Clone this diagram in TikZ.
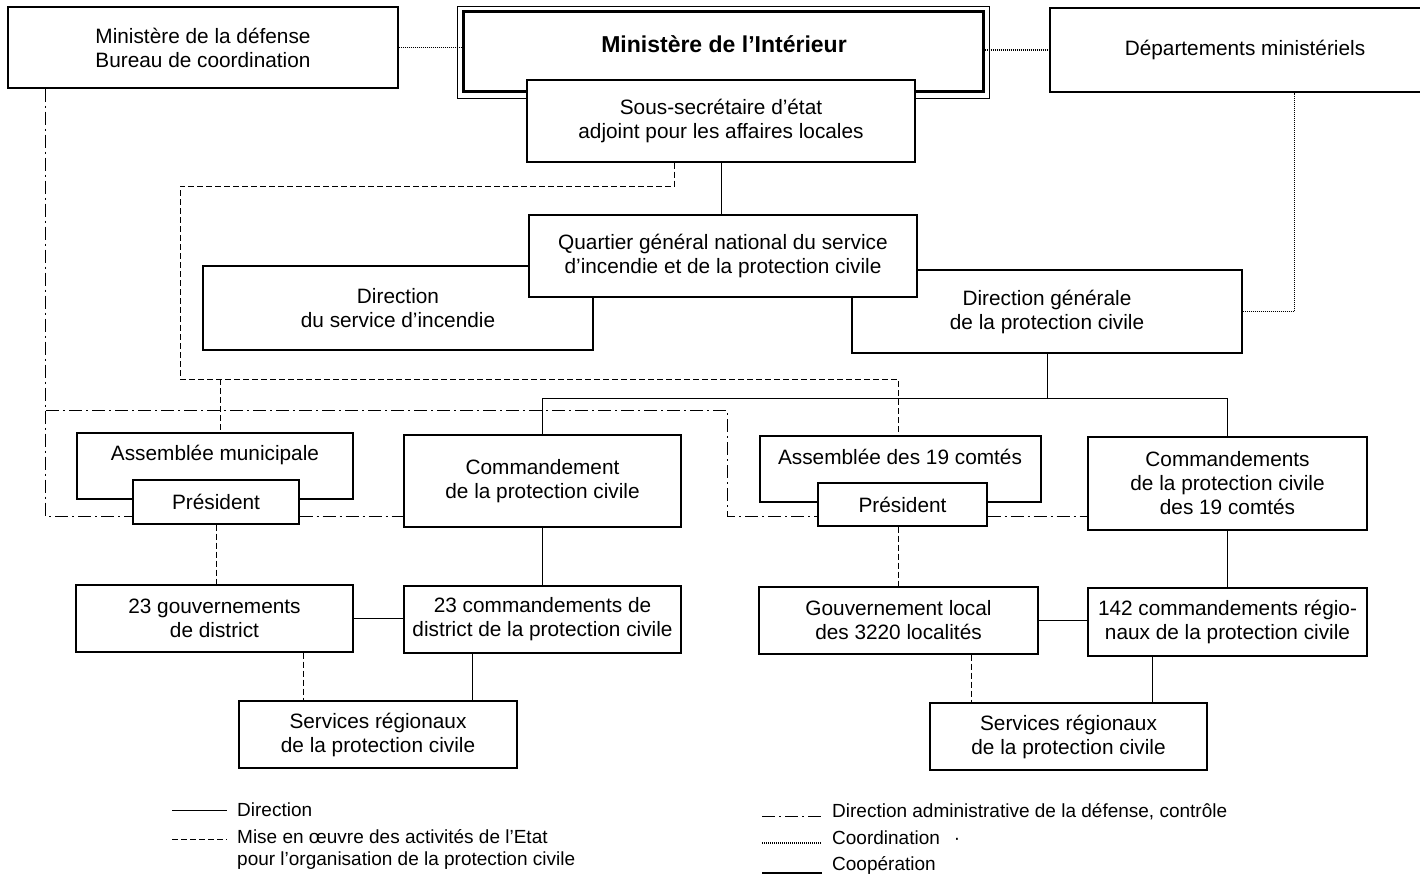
\documentclass[tikz,border=0pt]{standalone}
\usepackage{fontspec}
\setmainfont{Liberation Sans}
\usetikzlibrary{calc}
\begin{document}
\begin{tikzpicture}[x=1pt,y=-1pt,
  box/.style={draw, fill=white, line width=1.1pt, inner sep=0pt, align=center, font=\fontsize{20.8}{24}\selectfont},
  lbl/.style={inner sep=0pt, align=center, font=\fontsize{20.8}{24}\selectfont},
  con/.style={line width=0.9pt},
  dsh/.style={line width=0.8pt, dash pattern=on 6pt off 3pt},
  dshdot/.style={line width=0.8pt, dash pattern=on 13pt off 4pt on 2pt off 4pt},
  dotl/.style={line width=1.4pt, dash pattern=on 1pt off 1pt},
  leg/.style={inner sep=0pt, anchor=west, align=left, font=\fontsize{19}{22}\selectfont}
]
\useasboundingbox (0,0) rectangle (1420,877);
\clip (0,0) rectangle (1420,877);
\fill[white] (0,0) rectangle (1420,877);

% ---------- upper boxes ----------
\node[box, minimum width=390, minimum height=81] (def) at (203,47.5) {Ministère de la défense\\Bureau de coordination};
\node[box, minimum width=390, minimum height=84] (dep) at (1245,50) {Départements ministériels};
\node[box, minimum width=390, minimum height=84] (dsi) at (398,308) {Direction\\du service d’incendie};
\node[box, minimum width=390, minimum height=83] (dgpc) at (1047,311.5) {Direction générale\\de la protection civile};
\node[box, line width=3pt, minimum width=520, minimum height=80] (mi) at (723,52) {};
\draw[line width=0.9pt] ($(mi.north west)+(-4.5,-4.5)$) rectangle ($(mi.south east)+(4.5,4.5)$);
\node[lbl, font={\fontsize{23}{26}\selectfont\bfseries}] (mit) at (724,44) {Ministère de l’Intérieur};
\node[box, minimum width=388, minimum height=82] (ss) at (721,121) {Sous-secrétaire d’état\\adjoint pour les affaires locales};
\node[box, minimum width=388, minimum height=82] (qg) at (723,256) {Quartier général national du service\\d’incendie et de la protection civile};

% ---------- coordination (dotted) ----------
\draw[dotl] (def.east) -- (def.east -| mi.west);
\draw[dotl] (mi.east |- dep.west) -- (dep.west);
\path ($(dep.south west)+(245,0)$) coordinate (dp);
\draw[dotl] (dgpc.east) -| (dp);

% direction (solid)
\draw[con] (ss.south) -- (ss.south |- qg.north);
\coordinate (hb) at (0,398);

% helper coordinates
\path ($(ss.south west)+(148,0)$) coordinate (s1);
\coordinate (d1) at (180,186);
\coordinate (d2) at (180,379);
\coordinate (d3) at (220,379);
\coordinate (d4) at (898,379);
\path ($(def.south west)+(38,0)$) coordinate (e1);
\coordinate (e2) at (46,410);
\coordinate (e3) at (727,516);

% ---------- lower boxes ----------
\node[box, minimum width=276, minimum height=66] (asm) at (215,466) {};
\node[lbl] (asmt) at (215,455) {Assemblée municipale};
\node[box, minimum width=166, minimum height=44] (pres) at (216,502) {Président};
\node[box, minimum width=277, minimum height=92] (cmd) at (542.5,481) {Commandement\\de la protection civile};
\node[box, minimum width=281, minimum height=66] (asm19) at (900.5,469) {};
\node[lbl] (asm19t) at (900,457) {Assemblée des 19 comtés};
\node[box, minimum width=169, minimum height=43] (pres19) at (902.5,504.5) {Président};
\node[box, minimum width=279, minimum height=93] (cmd19) at (1227.5,483.5) {Commandements\\de la protection civile\\des 19 comtés};
\node[box, minimum width=277, minimum height=67] (gd) at (214.5,618.5) {23 gouvernements\\de district};
\node[box, minimum width=277, minimum height=67] (cd) at (542.5,619.5) {23 commandements de\\district de la protection civile};
\node[box, minimum width=278, minimum height=67] (srL) at (378,734.5) {Services régionaux\\de la protection civile};
\node[box, minimum width=279, minimum height=67] (gl) at (898.5,620.5) {Gouvernement local\\des 3220 localités};
\node[box, minimum width=279, minimum height=68] (c142) at (1227.5,622) {142 commandements régio-\\naux de la protection civile};
\node[box, minimum width=277, minimum height=67] (srR) at (1068.5,736.5) {Services régionaux\\de la protection civile};

% solid direction lines
\draw[con] (dgpc.south) -- (dgpc.south |- hb);
\draw[con] (cmd.north) -- (cmd.north |- hb) -- (cmd19.north |- hb) -- (cmd19.north);
\draw[con] (cmd.south) -- (cmd.south |- cd.north);
\draw[con] (cmd19.south) -- (cmd19.south |- c142.north);
\path ($(cd.south west)+(69,0)$) coordinate (c1);
\draw[con] (c1) -- (c1 |- srL.north);
\path ($(c142.south west)+(65,0)$) coordinate (c2);
\draw[con] (c2) -- (c2 |- srR.north);
% cooperation
\draw[con] (gd.east) -- (gd.east -| cd.west);
\draw[con] (gl.east) -- (gl.east -| c142.west);

% dashed
\draw[dsh] (s1) |- (d1) -- (d2) -- (d4) -- (d4 |- asm19.north);
\draw[dsh] (d3) -- (d3 |- asm.north);
\draw[dsh] (pres.south) -- (pres.south |- gd.north);
\draw[dsh] (gl.north |- pres19.south) -- (gl.north);
\path ($(gd.south west)+(228,0)$) coordinate (g1);
\draw[dsh] (g1) -- (g1 |- srL.north);
\path ($(gl.south west)+(213,0)$) coordinate (g2);
\draw[dsh] (g2) -- (g2 |- srR.north);

% dash-dot
\path ($(pres.west)+(0,14)$) coordinate (p0);
\draw[dshdot] (e1) |- (p0);
\draw[dshdot] (e2) -| (e3) -- (e3 -| pres19.west);
\path ($(pres.east)+(0,14)$) coordinate (p1);
\draw[dshdot] (p1) -- (p1 -| cmd.west);
\path ($(pres19.east)+(0,11.5)$) coordinate (p2);
\draw[dshdot] (p2) -- (p2 -| cmd19.west);

% ---------- legend ----------
\node[leg] (l1) at (237,810) {Direction};
\draw[con] ($(l1.west)+(-65,0)$) -- ($(l1.west)+(-10,0)$);
\node[leg] (l2) at (237,849) {Mise en œuvre des activités de l’Etat\\pour l’organisation de la protection civile};
\draw[dsh] ($(l2.west)+(-65,-10)$) -- ($(l2.west)+(-10,-10)$);
\node[leg] (r1) at (832,812) {Direction administrative de la défense, contrôle};
\draw[dshdot] ($(r1.west)+(-70,4)$) -- ($(r1.west)+(-10,4)$);
\node[leg] (r2) at (832,838) {Coordination\hspace{14pt}·};
\draw[dotl] ($(r2.west)+(-70,5)$) -- ($(r2.west)+(-10,5)$);
\node[leg] (r3) at (832,865) {Coopération};
\draw[line width=1.2pt] ($(r3.west)+(-70,8)$) -- ($(r3.west)+(-10,8)$);
\end{tikzpicture}
\end{document}
